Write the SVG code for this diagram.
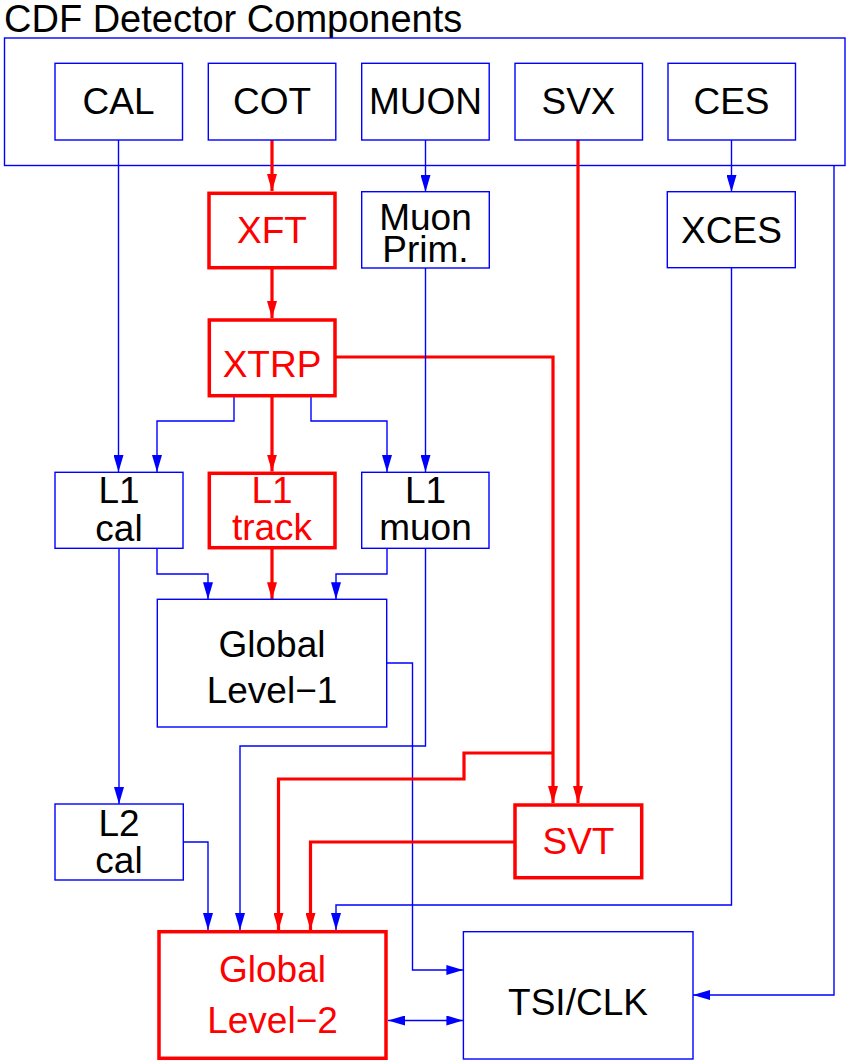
<svg xmlns="http://www.w3.org/2000/svg" width="846" height="1061" viewBox="0 0 846 1061">
<style>
text{font-family:"Liberation Sans",Arial,sans-serif;font-size:37px;text-anchor:middle;fill:#000}
.r text,text.r{fill:#ff0000}
.bb{fill:#fff;stroke:#0000ff;stroke-width:1.4}
.rb{fill:#fff;stroke:#ff0000;stroke-width:3.5}
.bl{fill:none;stroke:#0000ff;stroke-width:1.4}
.rl{fill:none;stroke:#ff0000;stroke-width:3.2}
</style>
<defs>
<marker id="ab" viewBox="0 0 17 10" refX="17" refY="5" markerWidth="17" markerHeight="10" markerUnits="userSpaceOnUse" orient="auto-start-reverse"><path d="M0,0 L17,5 L0,10 z" fill="#0000ff"/></marker>
<marker id="ar" viewBox="0 0 17 10" refX="17" refY="5" markerWidth="17" markerHeight="10" markerUnits="userSpaceOnUse" orient="auto"><path d="M0,0 L17,5 L0,10 z" fill="#ff0000"/></marker>
</defs>
<text x="4" y="32" style="text-anchor:start;font-size:38px">CDF Detector Components</text>
<g id="detector"><rect class="bb" x="4.5" y="38" width="840.5" height="127.5" fill="none"/></g>
<g id="connectors">
<path class="bl" d="M118.5,140 V472" marker-end="url(#ab)"/>
<path class="rl" d="M272,140 V191" marker-end="url(#ar)"/>
<path class="bl" d="M425.5,140 V192" marker-end="url(#ab)"/>
<path class="rl" d="M578,140 V803" marker-end="url(#ar)"/>
<path class="bl" d="M731.5,140 V192" marker-end="url(#ab)"/>
<path class="bl" d="M834,165.5 V995 H693" marker-end="url(#ab)"/>
<path class="rl" d="M272,268 V318" marker-end="url(#ar)"/>
<path class="rl" d="M335,357 H553 V803" marker-end="url(#ar)"/>
<path class="bl" d="M234,397 V421 H157 V472" marker-end="url(#ab)"/>
<path class="rl" d="M272,397 V471.5" marker-end="url(#ar)"/>
<path class="bl" d="M311,397 V421 H387 V472" marker-end="url(#ab)"/>
<path class="bl" d="M425.5,268 V472" marker-end="url(#ab)"/>
<path class="bl" d="M157,548.3 V574 H208 V599.3" marker-end="url(#ab)"/>
<path class="rl" d="M272,549 V599.3" marker-end="url(#ar)"/>
<path class="bl" d="M387,548.3 V574 H336 V599.3" marker-end="url(#ab)"/>
<path class="bl" d="M119,548.3 V804" marker-end="url(#ab)"/>
<path class="bl" d="M425.5,548.3 V746 H240 V930" marker-end="url(#ab)"/>
<path class="bl" d="M386.7,663 H412.5 V970 H463.4" marker-end="url(#ab)"/>
<path class="rl" d="M553,753 H464 V779 H278.5 V930" marker-end="url(#ar)"/>
<path class="rl" d="M515,842 H310.5 V930" marker-end="url(#ar)"/>
<path class="bl" d="M183.3,842 H208 V930" marker-end="url(#ab)"/>
<path class="bl" d="M731.5,267.7 V905 H336 V930" marker-end="url(#ab)"/>
<path class="bl" d="M388,1020.5 H463.4" marker-start="url(#ab)" marker-end="url(#ab)"/>
</g>
<g id="CAL"><rect class="bb" x="55" y="63.3" width="127.5" height="76.7"/><text x="118.5" y="114">CAL</text></g>
<g id="COT"><rect class="bb" x="208.3" y="63.3" width="127.5" height="76.7"/><text x="272" y="114">COT</text></g>
<g id="MUON"><rect class="bb" x="361.7" y="63.3" width="127.5" height="76.7"/><text x="425.5" y="114">MUON</text></g>
<g id="SVX"><rect class="bb" x="515" y="63.3" width="127.5" height="76.7"/><text x="578.5" y="114">SVX</text></g>
<g id="CES"><rect class="bb" x="668" y="63.3" width="127.5" height="76.7"/><text x="731.5" y="114">CES</text></g>
<g id="XFT"><rect class="rb" x="209" y="193.3" width="126" height="74.4"/><text class="r" x="272" y="242.7">XFT</text></g>
<g id="MuonPrim"><rect class="bb" x="361.7" y="191.7" width="127.6" height="76.3"/><text x="425.5" y="230">Muon</text><text x="425.5" y="261.7">Prim.</text></g>
<g id="XCES"><rect class="bb" x="667.3" y="191.7" width="128" height="76"/><text x="731.5" y="242.7">XCES</text></g>
<g id="XTRP"><rect class="rb" x="209.3" y="320" width="125.7" height="75.7"/><text class="r" x="272" y="377">XTRP</text></g>
<g id="L1cal"><rect class="bb" x="55" y="472.3" width="128" height="76"/><text x="119" y="503.3">L1</text><text x="119" y="540.7">cal</text></g>
<g id="L1track"><rect class="rb" x="209.3" y="473.3" width="125.7" height="74.4"/><text class="r" x="272" y="503.3">L1</text><text class="r" x="272" y="540.3">track</text></g>
<g id="L1muon"><rect class="bb" x="361.7" y="472.3" width="127.3" height="76"/><text x="425.5" y="503.3">L1</text><text x="425.5" y="540.3">muon</text></g>
<g id="GlobalL1"><rect class="bb" x="157.3" y="599.3" width="229.4" height="127.7"/><text x="272" y="657">Global</text><text x="272" y="703">Level−1</text></g>
<g id="L2cal"><rect class="bb" x="55" y="804" width="128.3" height="76"/><text x="119" y="835.5">L2</text><text x="119" y="873">cal</text></g>
<g id="SVT"><rect class="rb" x="515" y="805" width="126.7" height="72.7"/><text class="r" x="578.5" y="854">SVT</text></g>
<g id="GlobalL2"><rect class="rb" x="159" y="931.7" width="227" height="126.6"/><text class="r" x="272.5" y="982">Global</text><text class="r" x="272.5" y="1033">Level−2</text></g>
<g id="TSICLK"><rect class="bb" x="463.4" y="931.7" width="229.6" height="127.3"/><text x="578" y="1015">TSI/CLK</text></g>
</svg>
